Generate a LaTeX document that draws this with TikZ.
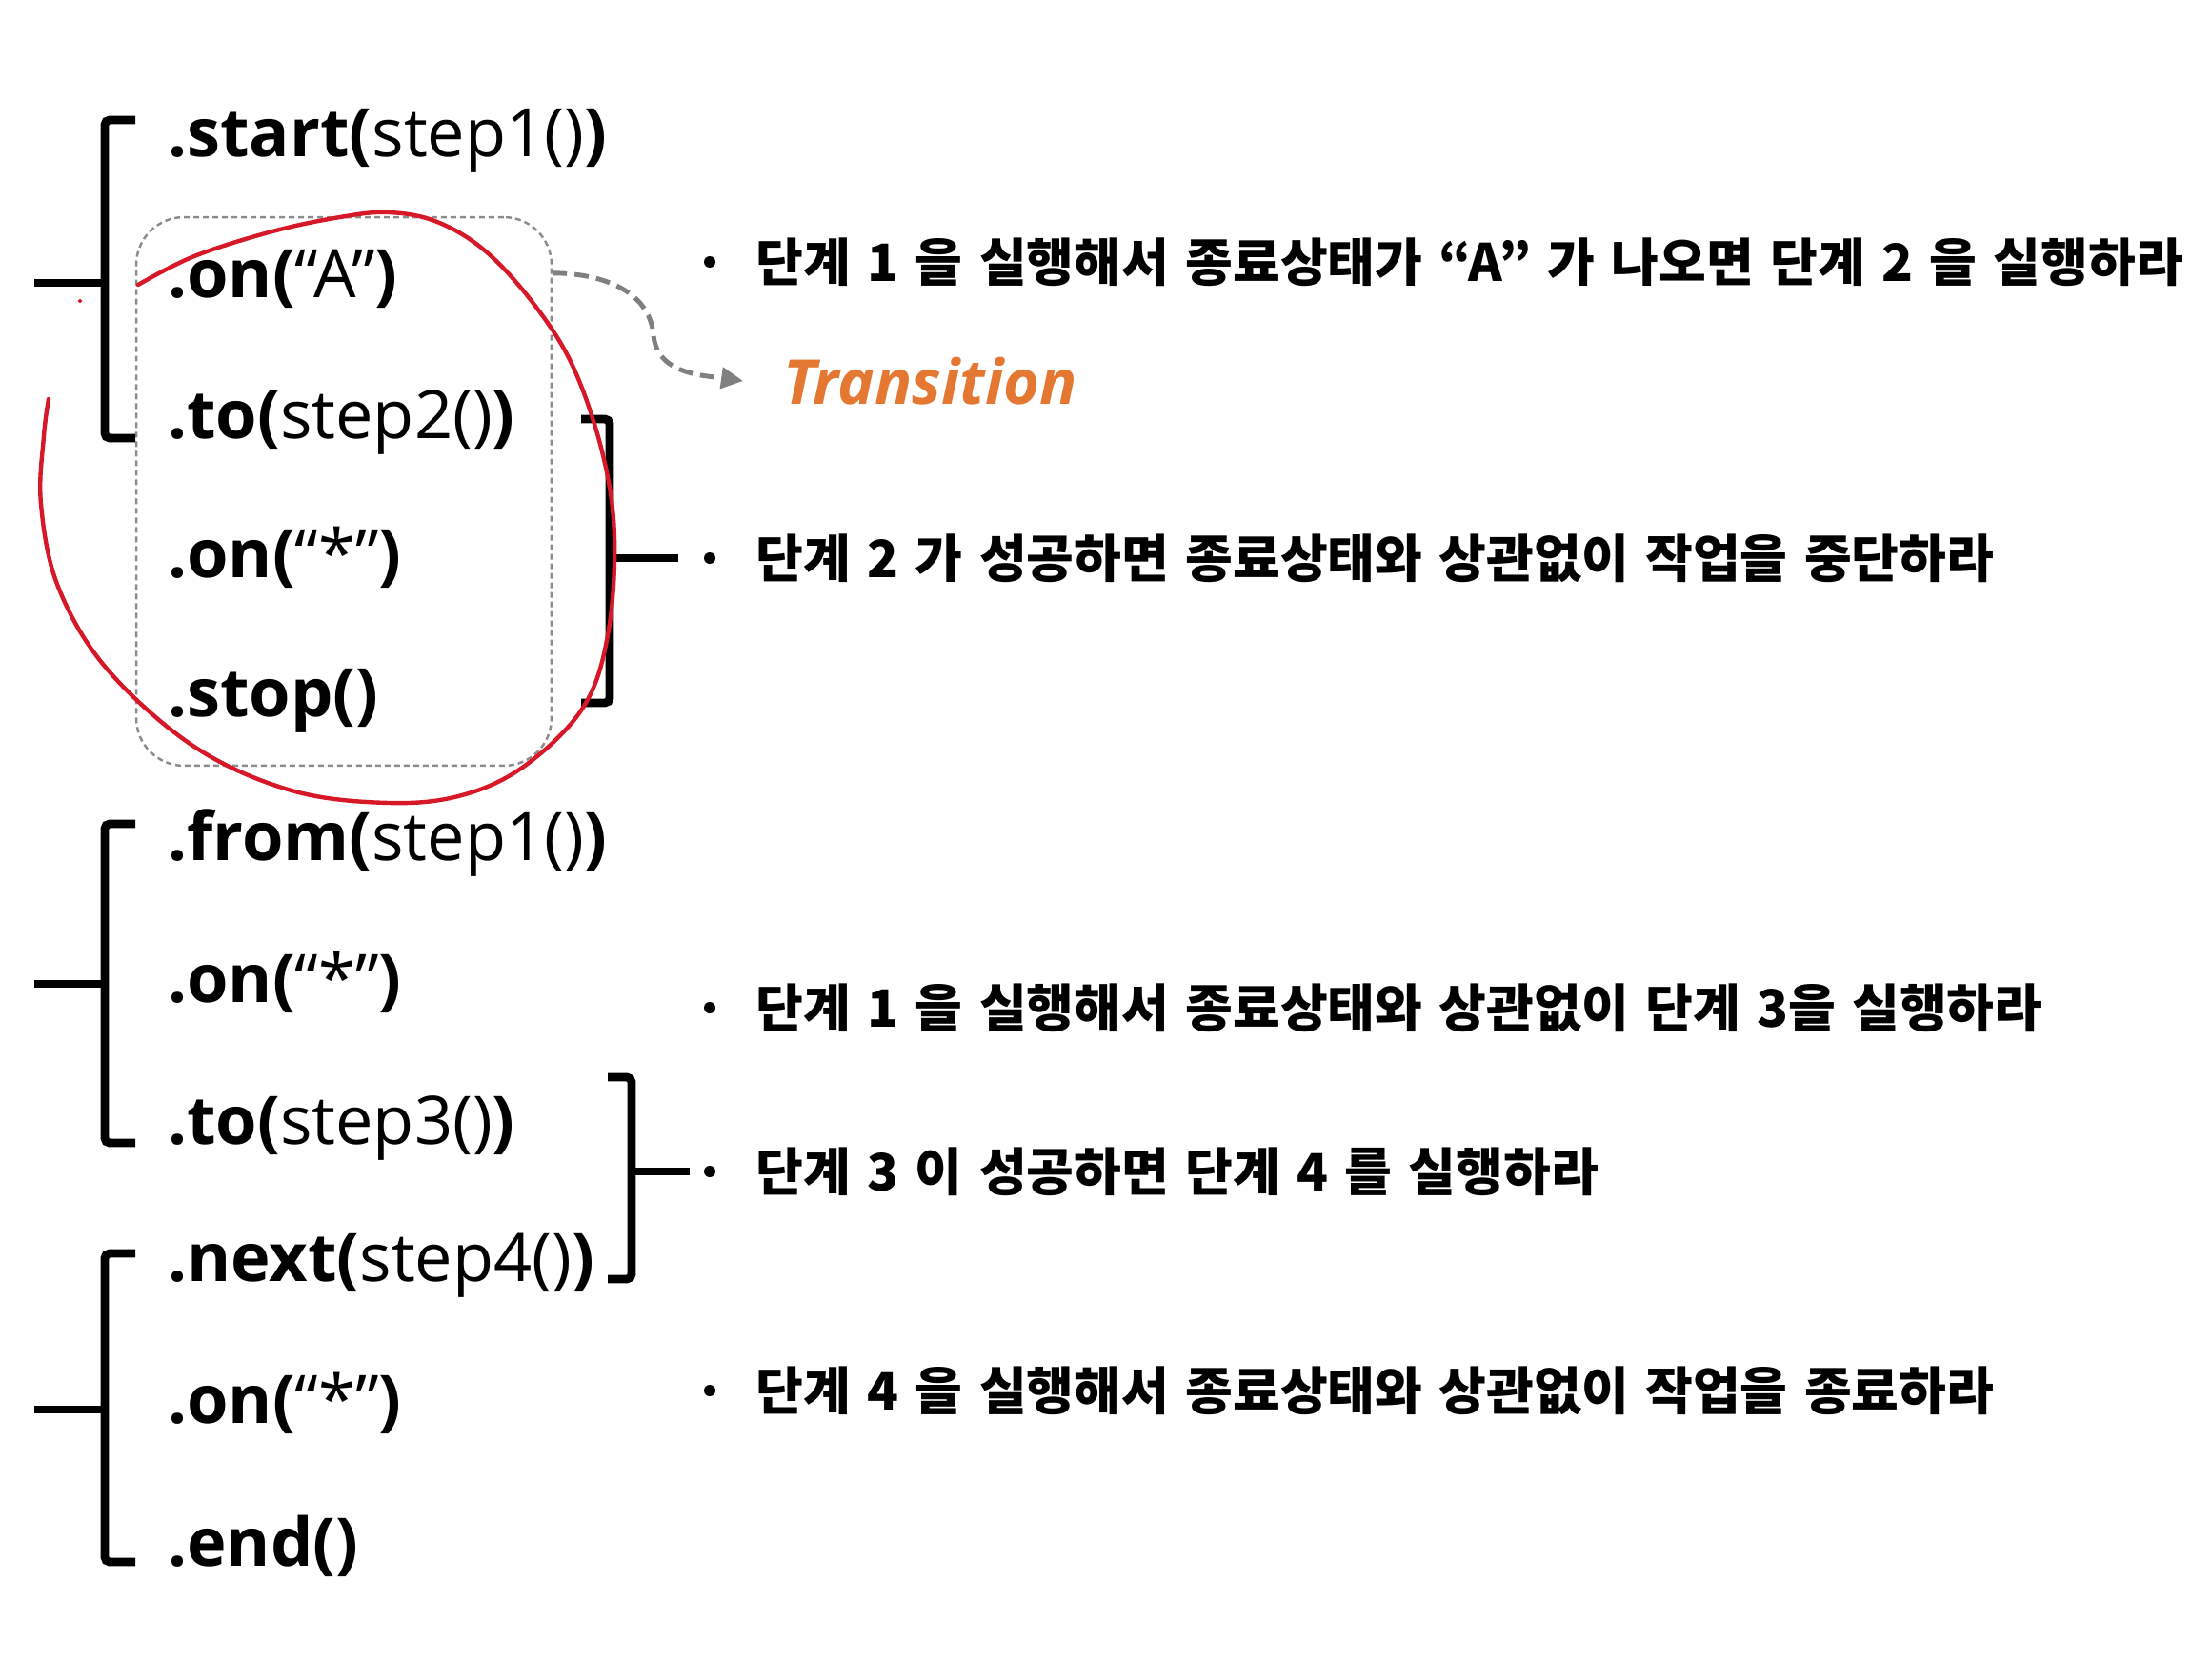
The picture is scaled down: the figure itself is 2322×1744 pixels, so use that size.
\documentclass[tikz,border=0pt]{standalone}
\usepackage{fontspec}
\setmainfont{Open Sans}
\newfontfamily\krfont{Noto Sans CJK KR}[WordSpace=1.4]
\usetikzlibrary{positioning,arrows.meta}
\definecolor{transorange}{RGB}{228,120,50}
\definecolor{loopred}{RGB}{214,24,40}
\definecolor{boxgray}{RGB}{140,140,140}
\definecolor{arrowgray}{RGB}{128,128,128}
\newcommand{\call}[2]{\textbf{.#1(}#2\textbf{)}}

\begin{document}
\begin{tikzpicture}[x=0.02cm, y=-0.02cm,
    code/.style = {anchor=base west, inner sep=0pt, font=\fontsize{40}{48}\selectfont},
    desc/.style = {anchor=west, inner sep=0pt, font=\krfont\bfseries\fontsize{30.8}{36}\selectfont},
    dot/.style = {circle, fill, inner sep=0pt, minimum size=0.24cm},
    brace/.style = {line width=5pt, rounded corners=0.1cm},
    grpbox/.style = {draw=boxgray, line width=1.4pt, dash pattern=on 0.12cm off 0.08cm, rounded corners=1cm, minimum width=8.72cm, minimum height=11.52cm},
    transarrow/.style = {draw=arrowgray, line width=2.8pt, dash pattern=on 0.3cm off 0.16cm, -{Triangle[length=0.46cm, width=0.44cm]}},
    redloop/.style = {draw=loopred, line width=2.5pt, line cap=round}]
    \useasboundingbox (0,0) rectangle (2322,1744);

    % dashed group round the transition
    \node[grpbox] (grp) at (361,516) {};

    % code lines
    \node[code] (start) at (176,164) {\call{start}{step1()}};
    \node[code] (onA) at (176,312) {\call{on}{“A”}};
    \node[code] (to2) at (176,460) {\call{to}{step2()}};
    \node[code] (on2) at (176,606) {\call{on}{“*”}};
    \node[code] (stop) at (176,752) {\textbf{.stop()}};
    \node[code] (from) at (176,903) {\call{from}{step1()}};
    \node[code] (on3) at (176,1052) {\call{on}{“*”}};
    \node[code] (to3) at (176,1201) {\call{to}{step3()}};
    \node[code] (next) at (176,1345) {\call{next}{step4()}};
    \node[code] (on4) at (176,1494) {\call{on}{“*”}};
    \node[code] (endc) at (176,1644) {\textbf{.end()}};

    % bullets and notes
    \node[dot] (b1) at (745,275) {};
    \node[dot] (b2) at (745,586) {};
    \node[dot] (b3) at (745,1058) {};
    \node[dot] (b4) at (745,1230) {};
    \node[dot] (b5) at (745,1460) {};
    \node[desc, right=0.84cm of b1] (t1) {단계 1 을 실행해서 종료상태가 “A” 가 나오면 단계 2 을 실행하라};
    \node[desc, right=0.84cm of b2] (t2) {단계 2 가 성공하면 종료상태와 상관없이 작업을 중단하라};
    \node[desc, right=0.84cm of b3] (t3) {단계 1 을 실행해서 종료상태와 상관없이 단계 3을 실행하라};
    \node[desc, right=0.84cm of b4] (t4) {단계 3 이 성공하면 단계 4 를 실행하라};
    \node[desc, right=0.84cm of b5] (t5) {단계 4 을 실행해서 종료상태와 상관없이 작업을 종료하라};

    \node[anchor=west, inner sep=0pt, text=transorange, font=\bfseries\itshape\fontsize{37}{44}\selectfont] (trans) at (822,400) {Transition};
    \draw[transarrow] ([yshift=-1.2cm]grp.north east) to[out=0, in=95] (686,352) to[out=-85, in=172] ([xshift=-0.84cm]trans.west);

    % brackets
    \draw[brace] (142,126) -- (110,126) -- (110,460) -- (142,460);
    \draw[brace] (36,297) -- (110,297);
    \draw[brace] (610,440) -- (640,440) -- (640,738) -- (610,738);
    \draw[brace, shorten >=0.54cm] (640,586) -- (b2.west);
    \draw[brace] (142,865) -- (110,865) -- (110,1200) -- (142,1200);
    \draw[brace] (36,1033) -- (110,1033);
    \draw[brace] (638,1131) -- (663,1131) -- (663,1343) -- (638,1343);
    \draw[brace, shorten >=0.3cm] (663,1230) -- (b4.west);
    \draw[brace] (142,1316) -- (110,1316) -- (110,1640) -- (142,1640);
    \draw[brace] (36,1480) -- (110,1480);

    % red hand-drawn loop
    \draw[redloop] plot[smooth, tension=0.6] coordinates {(145,299) (204,269) (286,243) (357,228) (408,223) (459,233) (510,264) (561,320) (602,386) (633,478) (645,565) (638,667) (612,743) (551,804) (485,835) (408,843) (306,830) (204,784) (112,702) (61,616) (43,529) (46,458) (51,419)};
    \fill[loopred] (84,316) circle (0.04cm);
\end{tikzpicture}
\end{document}
